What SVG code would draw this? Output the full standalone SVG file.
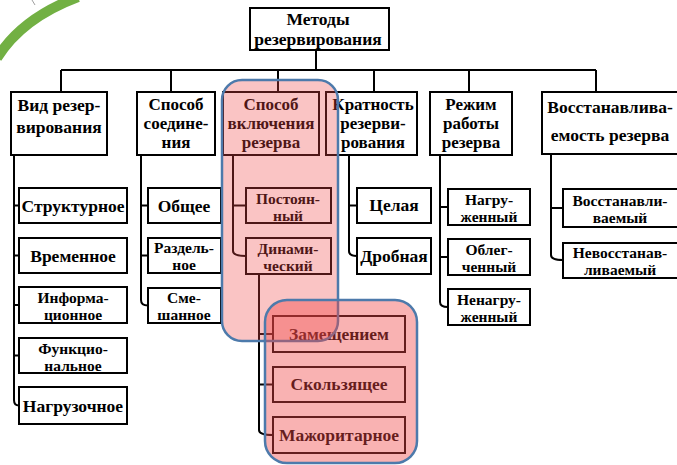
<svg xmlns="http://www.w3.org/2000/svg" width="677" height="465" viewBox="0 0 677 465">
<style>
.b{fill:#fff;stroke:#000;stroke-width:2}
.t{font-family:"Liberation Serif","Times New Roman",serif;font-size:17.5px;font-weight:bold;fill:#000;text-anchor:middle}
.m{font-size:17px}
.s{font-size:15.5px}
.c{fill:none;stroke:#000;stroke-width:2}
.h{stroke:#4d7aab;stroke-width:2.5}
</style>
<rect width="677" height="465" fill="#fff"/>
<path d="M -3 58 Q 22 18 78 -3" fill="none" stroke="#72b043" stroke-width="10"/>
<line x1="32" y1="0" x2="35" y2="5" stroke="#888" stroke-width="0.8"/>
<g id="connectors">
<path class="c" d="M316 50V70M61 70H596M61 70V92M171 70V92M278 70V92M374 70V92M469 70V92M596 70V92"/>
<path class="c" d="M14 155V400Q14 405.5 19 405.5M14 205.5H19M14 255.5H19M14 305H19M14 355.5H19"/>
<path class="c" d="M141 155V300Q141 305.5 148 305.5M141 205.5H148M141 255.5H148"/>
<path class="c" d="M233 155V251Q233 256 246 256M233 205.5H246"/>
<path class="c" d="M259 274V430Q259 435 273 435M259 334H273M259 384.5H273"/>
<path class="c" d="M349 155V251Q349 256 357 256M349 205.5H357"/>
<path class="c" d="M440 155V302Q440 307 448 307M440 207H448M440 257H448"/>
<path class="c" d="M551 155V255Q551 260 563 260M551 208H563"/>
</g>
<g id="root"><rect class="b" x="250" y="8" width="139" height="42"/><text class="t" x="318" y="25">Методы</text><text class="t" x="318" y="45">резервирования</text></g>
<g id="vid"><rect class="b" x="11" y="92" width="96" height="63"/><text class="t" x="59" y="111">Вид резер-</text><text class="t" x="59" y="133">вирования</text></g>
<g id="sposob-soed"><rect class="b" x="137" y="92" width="78" height="63"/><text class="t m" x="176" y="110">Способ</text><text class="t m" x="176" y="129">соедине-</text><text class="t m" x="176" y="148">ния</text></g>
<g id="sposob-vkl"><rect class="b" x="223" y="92" width="96" height="63"/><text class="t m" x="271" y="110">Способ</text><text class="t m" x="271" y="129">включения</text><text class="t m" x="271" y="148">резерва</text></g>
<g id="kratnost"><rect class="b" x="326" y="92" width="91" height="63"/><text class="t m" x="373" y="110">Кратность</text><text class="t m" x="373" y="129">резерви-</text><text class="t m" x="373" y="148">рования</text></g>
<g id="rezhim"><rect class="b" x="430" y="92" width="82" height="63"/><text class="t m" x="471" y="110">Режим</text><text class="t m" x="471" y="129">работы</text><text class="t m" x="471" y="148">резерва</text></g>
<g id="vosst"><rect class="b" x="542" y="92" width="140" height="62"/><text class="t" x="610" y="113">Восстанавлива-</text><text class="t" x="610" y="141">емость резерва</text></g>
<g id="strukt"><rect class="b" x="19" y="188" width="108" height="35"/><text class="t" x="73" y="212">Структурное</text></g>
<g id="vrem"><rect class="b" x="19" y="238" width="108" height="35"/><text class="t" x="73" y="262">Временное</text></g>
<g id="inform"><rect class="b" x="19" y="287" width="108" height="36"/><text class="t s" x="73" y="303">Информа-</text><text class="t s" x="73" y="320">ционное</text></g>
<g id="funk"><rect class="b" x="19" y="338" width="108" height="35"/><text class="t s" x="73" y="354">Функцио-</text><text class="t s" x="73" y="371">нальное</text></g>
<g id="nagruz"><rect class="b" x="19" y="387" width="108" height="37"/><text class="t" x="73" y="412">Нагрузочное</text></g>
<g id="obshee"><rect class="b" x="148" y="188" width="73" height="35"/><text class="t" x="184" y="212">Общее</text></g>
<g id="razdel"><rect class="b" x="148" y="238" width="73" height="35"/><text class="t s" x="184" y="253">Раздель-</text><text class="t s" x="184" y="270">ное</text></g>
<g id="smesh"><rect class="b" x="148" y="288" width="73" height="35"/><text class="t s" x="184" y="303">Сме-</text><text class="t s" x="184" y="320">шанное</text></g>
<g id="postoyan"><rect class="b" x="246" y="188" width="85" height="35"/><text class="t s" x="288" y="204">Постоян-</text><text class="t s" x="288" y="221">ный</text></g>
<g id="dinam"><rect class="b" x="246" y="238" width="85" height="36"/><text class="t s" x="288" y="254">Динами-</text><text class="t s" x="288" y="271">ческий</text></g>
<g id="zamesh"><rect class="b" x="273" y="316" width="132" height="36"/><text class="t" x="339" y="340">Замещением</text></g>
<g id="skolz"><rect class="b" x="273" y="367" width="132" height="35"/><text class="t" x="339" y="390">Скользящее</text></g>
<g id="mazhor"><rect class="b" x="273" y="417" width="132" height="36"/><text class="t" x="339" y="441">Мажоритарное</text></g>
<g id="celaya"><rect class="b" x="357" y="188" width="74" height="35"/><text class="t" x="394" y="211">Целая</text></g>
<g id="drobn"><rect class="b" x="357" y="238" width="74" height="36"/><text class="t" x="394" y="262">Дробная</text></g>
<g id="nagruzh"><rect class="b" x="448" y="189" width="82" height="36"/><text class="t s" x="489" y="205">Нагру-</text><text class="t s" x="489" y="222">женный</text></g>
<g id="obleg"><rect class="b" x="448" y="239" width="82" height="36"/><text class="t s" x="489" y="255">Облег-</text><text class="t s" x="489" y="272">ченный</text></g>
<g id="nenagr"><rect class="b" x="448" y="289" width="82" height="36"/><text class="t s" x="489" y="305">Ненагру-</text><text class="t s" x="489" y="322">женный</text></g>
<g id="vosst-y"><rect class="b" x="563" y="189" width="120" height="38"/><text class="t s" x="620" y="206">Восстанавли-</text><text class="t s" x="620" y="223">ваемый</text></g>
<g id="nevosst"><rect class="b" x="563" y="243" width="120" height="35"/><text class="t s" x="620" y="258">Невосстанав-</text><text class="t s" x="620" y="275">ливаемый</text></g>
<g id="highlights">
<rect class="h" x="222" y="80" width="116" height="261" rx="20" fill="#f04848" fill-opacity="0.32"/>
<rect class="h" x="265" y="300" width="152" height="163" rx="22" fill="#f04848" fill-opacity="0.42"/>
</g>
</svg>
